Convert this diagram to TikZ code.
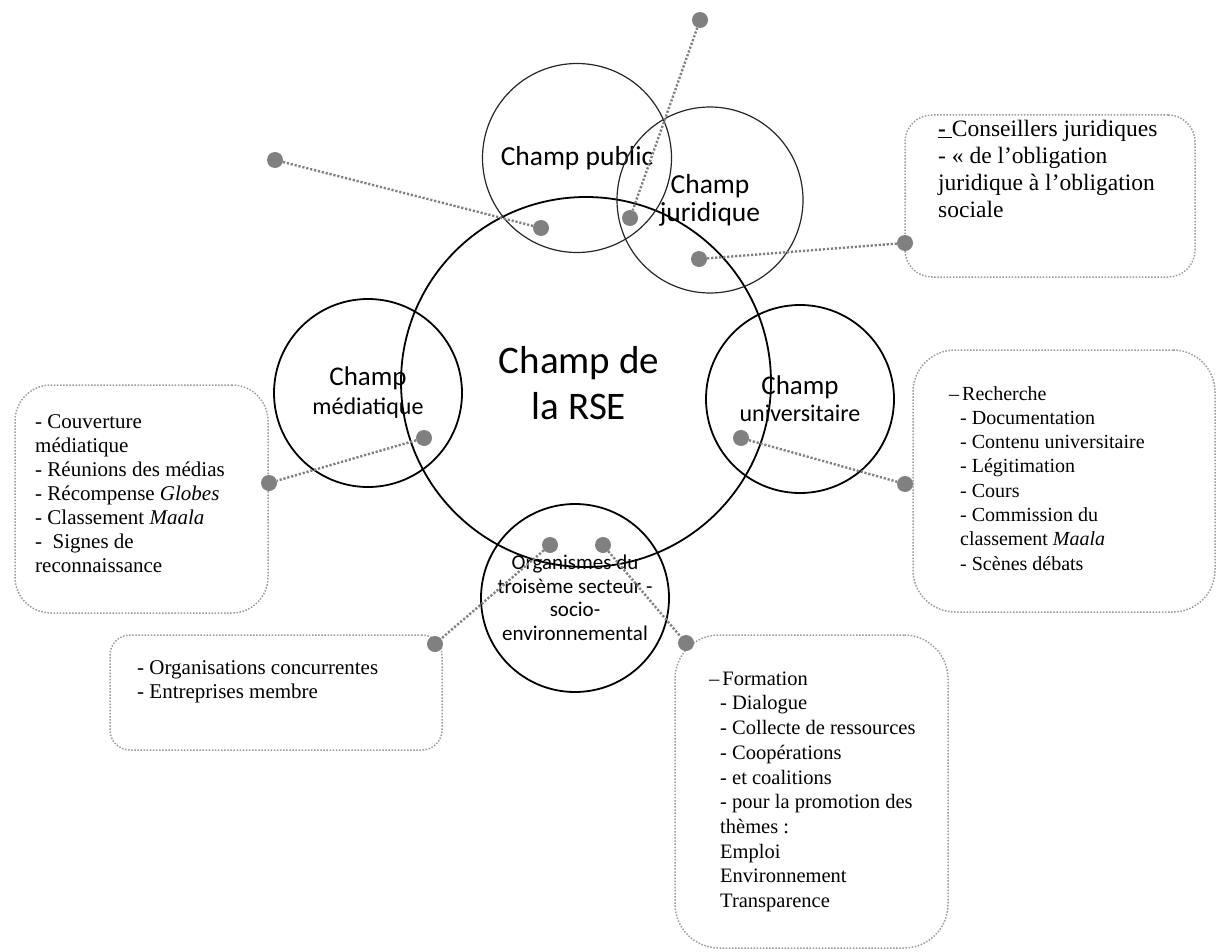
\documentclass[tikz,border=0pt]{standalone}
\usepackage{fontspec}
\setmainfont{Liberation Serif}
\newfontfamily\calib{Carlito}
\definecolor{dotgray}{HTML}{808080}
\definecolor{boxgray}{HTML}{9A9A9A}
\begin{document}
\begin{tikzpicture}[x=1pt,y=-1pt,
  ring/.style={circle, draw=black, line width=1.8pt, inner sep=0pt, align=center},
  thinring/.style={circle, draw=black!85, line width=1.2pt, inner sep=0pt, align=center},
  dot/.style={circle, fill=dotgray, minimum size=16pt, inner sep=0pt},
  link/.style={draw=dotgray, line width=2.4pt, dash pattern=on 2.2pt off 1.8pt},
  box/.style={draw=boxgray, line width=1.5pt, dash pattern=on 1.5pt off 1.6pt, inner sep=0pt},
  txt/.style={anchor=north west, inner sep=0pt, align=left}
]
\useasboundingbox (0,0) rectangle (1217,952);

% circles
\node[ring, minimum size=370pt] (rse) at (586,382) {};
\node[align=center, inner sep=0pt, font=\calib\fontsize{39}{46}\selectfont] (rsetext) at (579,383) {Champ de\\la RSE};
\node[thinring, minimum size=189pt, font=\calib\fontsize{27.5}{30}\selectfont] (pub) at (577,158) {Champ public};
\node[thinring, minimum size=186pt, font=\calib\fontsize{27.5}{28}\selectfont] (jur) at (710,200) {Champ\\juridique};
\node[ring, minimum size=188pt, font=\calib\fontsize{24}{29}\selectfont] (med) at (368,393) {{\fontsize{27}{29}\selectfont Champ}\\médiatique};
\node[ring, minimum size=188pt, font=\calib\fontsize{24}{27}\selectfont] (uni) at (800,399) {{\fontsize{27}{27}\selectfont Champ}\\universitaire};
\node[ring, minimum size=188pt, font=\calib\fontsize{21}{23.5}\selectfont] (org) at (575,598) {Organismes du\\troisème secteur -\\socio-\\environnemental};

% boxes
\node[box, rounded corners=27pt, minimum width=290pt, minimum height=162pt] (bTR) at (1050,196) {};
\node[box, rounded corners=36pt, minimum width=253pt, minimum height=228pt] (bL) at (141.5,499) {};
\node[box, rounded corners=42pt, minimum width=302pt, minimum height=262pt] (bR) at (1064,481) {};
\node[box, rounded corners=20pt, minimum width=332pt, minimum height=115pt] (bBL) at (276,692.5) {};
\node[box, rounded corners=44pt, minimum width=273pt, minimum height=313pt] (bBR) at (811.5,791.5) {};

% box texts
\node[txt, font=\fontsize{23.5}{27}\selectfont] (tTR) at (938,119.5) {\underline{\textbf{-\ }}Conseillers juridiques\\- « de l’obligation\\juridique à l’obligation\\sociale};
\node[txt, font=\fontsize{21}{24}\selectfont] (tL) at (35,414) {- Couverture\\médiatique\\- Réunions des médias\\- Récompense \textit{Globes}\\- Classement \textit{Maala}\\-\ \ Signes de\\reconnaissance};
\node[txt, font=\fontsize{20}{24.3}\selectfont] (tR) at (960,386) {\hspace*{-11pt}–\hspace{3pt}Recherche\\- Documentation\\- Contenu universitaire\\- Légitimation\\- Cours\\- Commission du\\classement \textit{Maala}\\- Scènes débats};
\node[txt, font=\fontsize{21}{24}\selectfont] (tBL) at (137,660) {- Organisations concurrentes\\- Entreprises membre};
\node[txt, font=\fontsize{20.5}{24.7}\selectfont] (tBR) at (720,671.5) {\hspace*{-11pt}–\hspace{3pt}Formation\\- Dialogue\\- Collecte de ressources\\- Coopérations\\- et coalitions\\- pour la promotion des\\thèmes :\\Emploi\\Environnement\\Transparence};

% dots
\node[dot] (a1) at (275,160) {};
\node[dot] (a2) at (541,228) {};
\node[dot] (b1) at (700,20) {};
\node[dot] (b2) at (630,218) {};
\node[dot] (c1) at (699,259) {};
\node[dot] (c2) at (905,243) {};
\node[dot] (d1) at (424,438) {};
\node[dot] (d2) at (269,483) {};
\node[dot] (e1) at (741,438) {};
\node[dot] (e2) at (905,484) {};
\node[dot] (f1) at (550,545) {};
\node[dot] (f2) at (435,644) {};
\node[dot] (g1) at (603,545) {};
\node[dot] (g2) at (686,643) {};

% connectors
\draw[link] (a1) -- (a2);
\draw[link] (b1) -- (b2);
\draw[link] (c1) -- (c2);
\draw[link] (d1) -- (d2);
\draw[link] (e1) -- (e2);
\draw[link] (f1) -- (f2);
\draw[link] (g1) -- (g2);
\end{tikzpicture}
\end{document}
